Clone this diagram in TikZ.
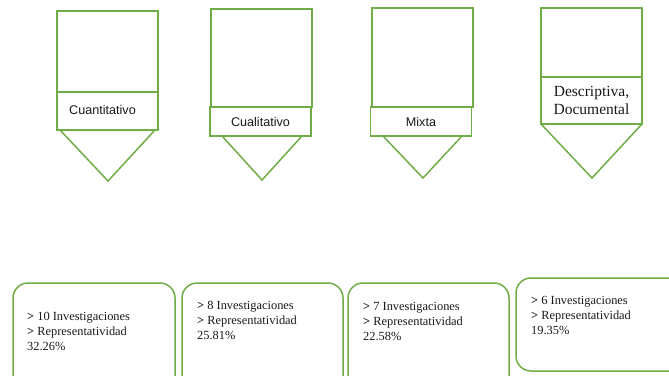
\documentclass[tikz,border=0pt]{standalone}
\usepackage{fontspec}
\setmainfont{Liberation Serif}
\newfontfamily\tagfont{Liberation Sans}
\usetikzlibrary{positioning}
\definecolor{leafgreen}{RGB}{112,173,71}

\begin{document}
\begin{tikzpicture}[x=1pt, y=-1pt,
    box/.style={draw=leafgreen, line width=1.5pt},
    tagbox/.style={box, fill=white, inner sep=0pt, minimum width=101pt, text=black!90,
                   font=\tagfont\fontsize{12.6}{15}\selectfont},
    note/.style={anchor=north west, align=left, inner sep=0pt, text=black!90,
                 font=\fontsize{12.4}{15}\selectfont}]
    \clip (0,0) rectangle (669,375);

    % Cuantitativo
    \draw[box] (57,11) rectangle (158,92);
    \node[tagbox, minimum height=38pt] (cuanti) at (107.5,111) {\raisebox{3pt}{Cuantitativo}\hspace*{10pt}};
    \draw[box] (60,130) -- (108,181) -- (155,130);

    % Cualitativo
    \draw[box] (211,9) rectangle (312,107);
    \node[tagbox, minimum height=29pt] (cuali) at (260.5,121.5) {Cualitativo};
    \draw[box] (222,136) -- (262,180) -- (302,136);

    % Mixta
    \draw[box] (372,8) rectangle (473,107);
    \node[tagbox, minimum height=29pt] (mixta) at (421,121.5) {Mixta};
    \draw[box] (383,136) -- (423,178) -- (462,136);

    % Descriptiva, Documental
    \draw[box] (541,8) rectangle (642,77);
    \node[tagbox, minimum height=47pt, align=center, font=\fontsize{15.5}{18}\selectfont]
        (descr) at (591.5,100.5) {Descriptiva,\\Documental};
    \draw[box] (541,124) -- (592,178) -- (642,124);

    % results
    \draw[box, rounded corners=15pt] (13,283) rectangle (175,400);
    \node[note] (resA) at (27,312.5) {\textbf{>} 10 Investigaciones\\\textbf{>} Representatividad\\32.26\%};

    \draw[box, rounded corners=15pt] (182,283) rectangle (343,400);
    \node[note] (resB) at (197,301.5) {\textbf{>} 8 Investigaciones\\\textbf{>} Representatividad\\25.81\%};

    \draw[box, rounded corners=15pt] (348,283) rectangle (509,400);
    \node[note] (resC) at (363,302.5) {\textbf{>} 7 Investigaciones\\\textbf{>} Representatividad\\22.58\%};

    \draw[box, rounded corners=15pt] (516,278) rectangle (690,371);
    \node[note] (resD) at (531,296.5) {\textbf{>} 6 Investigaciones\\\textbf{>} Representatividad\\19.35\%};
\end{tikzpicture}
\end{document}
